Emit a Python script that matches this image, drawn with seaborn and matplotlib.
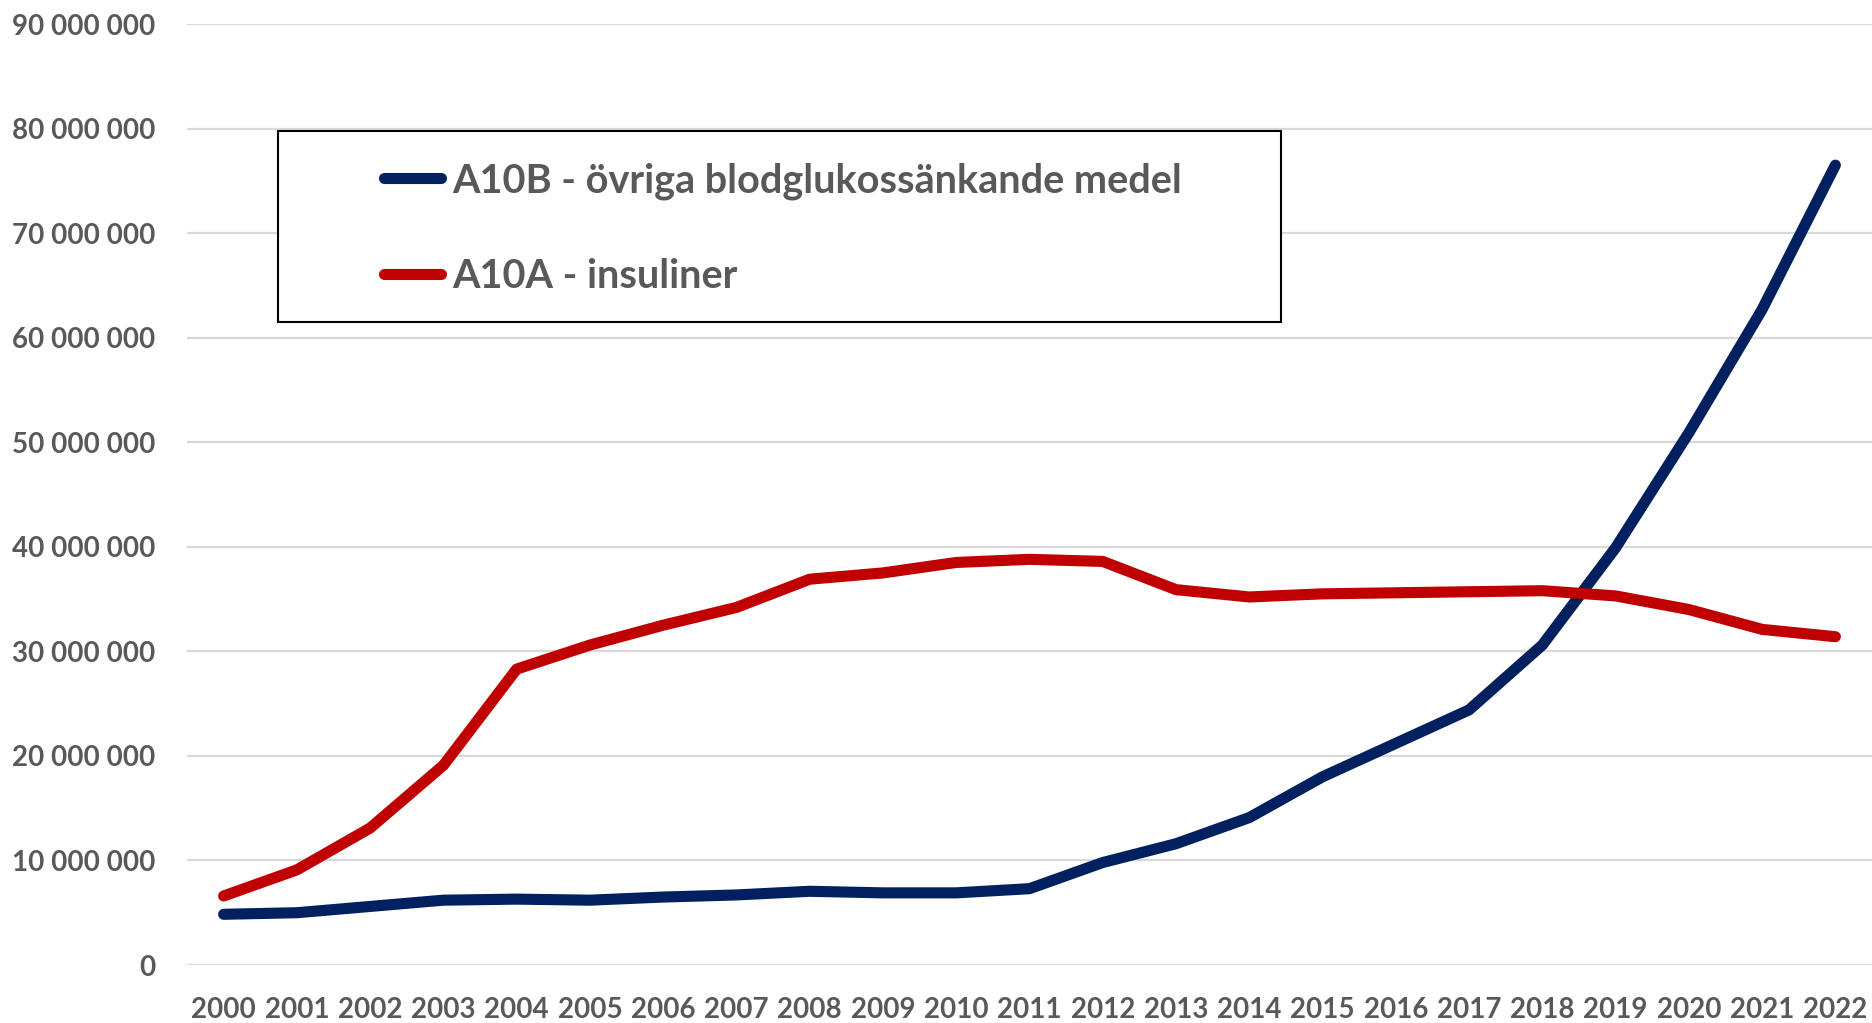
import matplotlib
matplotlib.use("Agg")
import matplotlib.pyplot as plt
from matplotlib.ticker import FuncFormatter
from matplotlib.patches import Rectangle
from matplotlib.lines import Line2D
import seaborn as sns
import pandas as pd

years = list(range(2000, 2023))
a10b = [4.85e6, 5.0e6, 5.6e6, 6.2e6, 6.3e6, 6.2e6, 6.5e6, 6.7e6, 7.05e6, 6.9e6, 6.9e6, 7.3e6,
        9.8e6, 11.6e6, 14.1e6, 18.0e6, 21.2e6, 24.4e6, 30.6e6, 39.9e6, 50.9e6, 62.7e6, 76.5e6]
a10a = [6.6e6, 9.1e6, 13.1e6, 19.1e6, 28.3e6, 30.6e6, 32.5e6, 34.2e6, 36.9e6, 37.5e6, 38.5e6, 38.8e6,
        38.6e6, 35.9e6, 35.2e6, 35.5e6, 35.6e6, 35.7e6, 35.8e6, 35.3e6, 34.0e6, 32.1e6, 31.4e6]
series_names = ["A10B - övriga blodglukossänkande medel", "A10A - insuliner"]
colors = ["#002060", "#C00000"]
yticks = list(range(0, 90_000_001, 10_000_000))

df = pd.DataFrame({
    "year": years * 2,
    "value": a10b + a10a,
    "series": [series_names[0]] * len(years) + [series_names[1]] * len(years),
})

sns.set_theme(style="white")
plt.rcParams["font.family"] = ["Lato", "DejaVu Sans"]

fig = plt.figure(figsize=(18.72, 10.23), dpi=100)
ax = fig.add_axes([187 / 1872, 58 / 1023, 1685 / 1872, 941 / 1023])

sns.lineplot(data=df, x="year", y="value", hue="series", hue_order=series_names,
             palette=colors, lw=8, solid_capstyle="round", ax=ax, legend=False)

ax.set_xlim(1999.5, 2022.5)
ax.set_ylim(0, 90_000_000)
ax.set_xticks(years)
ax.set_xticklabels([str(y) for y in years])
ax.set_yticks(yticks)
ax.yaxis.set_major_formatter(FuncFormatter(lambda v, p: f"{v:,.0f}".replace(",", " ")))
ax.grid(axis="y", color="#D9D9D9", lw=1.6)
ax.set_axisbelow(True)
for s in ax.spines.values():
    s.set_visible(False)
ax.tick_params(axis="both", length=0, labelsize=20, labelcolor="#595959")
ax.tick_params(axis="y", pad=23)
ax.tick_params(axis="x", pad=23)
for lab in ax.get_xticklabels() + ax.get_yticklabels():
    lab.set_fontweight("bold")
ax.set_xlabel("")
ax.set_ylabel("")

# legend frame
ax.add_patch(Rectangle((0.054, 0.683), 0.595, 0.203, transform=ax.transAxes,
                       fill=True, facecolor="white", edgecolor="black", lw=1.5, zorder=5))
handles = [Line2D([0], [0], color=c, lw=8, solid_capstyle="round") for c in colors]
leg = ax.legend(handles, series_names, loc="upper left", bbox_to_anchor=(0.1075, 0.870),
                frameon=False, prop={"size": 28.5, "weight": "bold"}, labelcolor="#595959",
                handlelength=1.45, handletextpad=0.28, labelspacing=1.47, borderaxespad=0)
leg.set_zorder(6)

fig.savefig("out.png", dpi=100)
